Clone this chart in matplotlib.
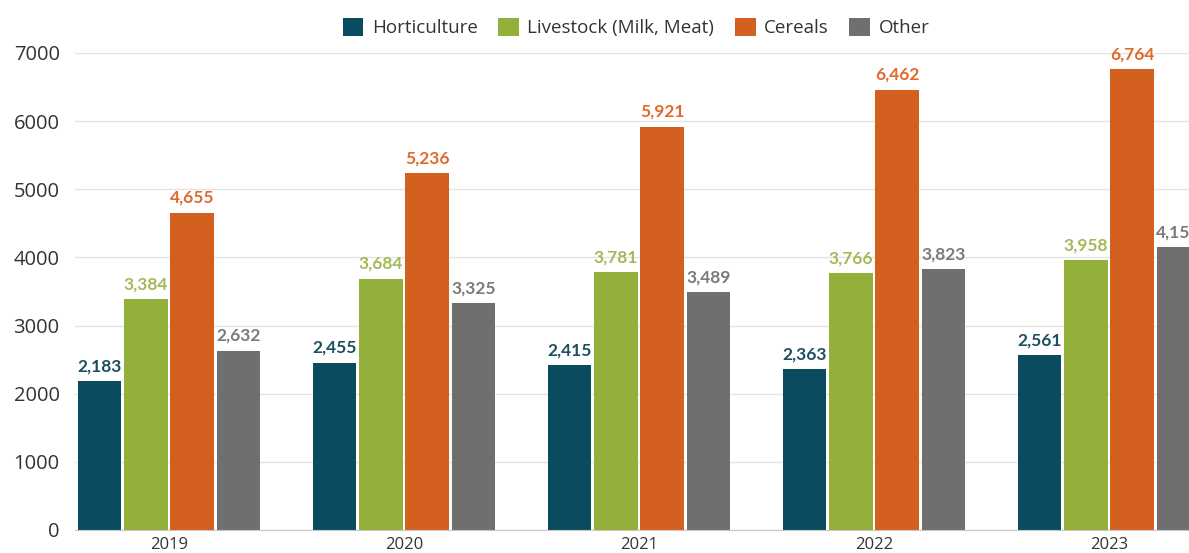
import numpy as np
import matplotlib.pyplot as plt

years = ["2019", "2020", "2021", "2022", "2023"]
series = ["Horticulture", "Livestock (Milk, Meat)", "Cereals", "Other"]
horticulture = [2183, 2455, 2415, 2363, 2561]
livestock = [3384, 3684, 3781, 3766, 3958]
cereals = [4655, 5236, 5921, 6462, 6764]
other = [2632, 3325, 3489, 3823, 4150]

bar_colors = ["#0b4b60", "#93b13a", "#d4601f", "#6f6f6f"]
label_colors = ["#1d4f60", "#a4b957", "#e0692c", "#7a7a7a"]

fig = plt.figure(figsize=(11.89, 5.53), dpi=100)
ax = fig.add_axes([0.063, 0.0416, 0.937, 0.8626])

x = np.arange(len(years))
pitch = 0.197
for i, (name, vals) in enumerate(zip(series, [horticulture, livestock, cereals, other])):
    pos = x + (i - 1.5) * pitch
    bars = ax.bar(pos, vals, width=0.186, color=bar_colors[i], label=name, zorder=3)
    for b, v in zip(bars, vals):
        ax.annotate(f"{v:,}", (b.get_x() + b.get_width() / 2, v),
                    xytext=(0, 5), textcoords="offset points",
                    ha="center", va="bottom", fontsize=12.5, fontweight="bold",
                    family="Lato", color=label_colors[i], zorder=4)

ax.set_xlim(-0.4, 4.34)
ax.set_ylim(0, 7000)
ax.set_yticks(range(0, 7001, 1000))
ax.set_xticks(x)
ax.set_xticklabels(years, fontsize=12, family="Open Sans", color="#333333")
for t in ax.get_yticklabels():
    t.set_fontsize(14.5)
    t.set_family("Open Sans")
    t.set_color("#333333")
ax.tick_params(axis="both", length=0)
ax.tick_params(axis="y", pad=11)
ax.tick_params(axis="x", pad=5)
ax.grid(axis="y", color="#e4e4e4", linewidth=1, zorder=0)
for s in ["top", "right", "left"]:
    ax.spines[s].set_visible(False)
ax.spines["bottom"].set_color("#c8c8c8")
ax.spines["bottom"].set_zorder(5)

fig.legend(loc="center", bbox_to_anchor=(0.535, 0.95), ncol=4, frameon=False,
           prop={"family": "Open Sans", "size": 13.5}, labelcolor="#333333",
           handlelength=1.1, handleheight=1.1, handletextpad=0.45, columnspacing=1.1)

fig.savefig("out.png", dpi=100)
